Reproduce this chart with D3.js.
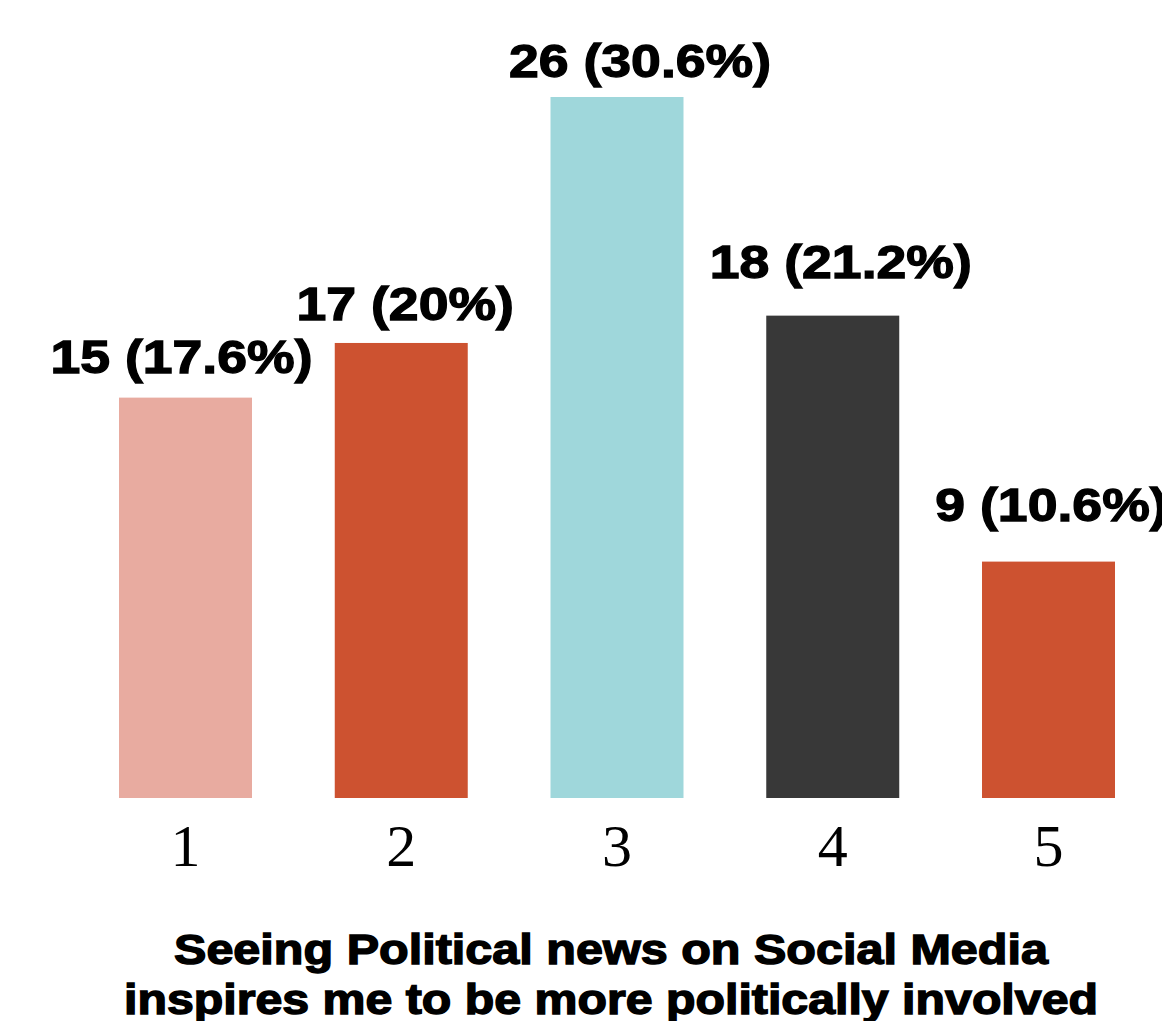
<!DOCTYPE html>
<html>
<head>
<meta charset="utf-8">
<script src="https://cdn.jsdelivr.net/npm/d3@7/dist/d3.min.js"></script>
<style>
  html, body { margin: 0; padding: 0; background: #ffffff; overflow: hidden; }
  svg { display: block; }
</style>
</head>
<body>
<div id="chart"></div>
<script>
// Survey responses on a 1–5 agreement scale
const categories = ["1", "2", "3", "4", "5"];
const counts = [15, 17, 26, 18, 9];
const percents = ["17.6%", "20%", "30.6%", "21.2%", "10.6%"];
const barColors = ["#E8ABA0", "#CD5230", "#9FD7DB", "#383838", "#CD5230"];
const titleLines = [
  "Seeing Political news on Social Media",
  "inspires me to be more politically involved"
];

const width = 1162, height = 1021;
const baseline = 798;          // bottom edge of the bars
const plotTop = 97;            // top of the tallest bar
const axisFloor = 0.35;        // value that sits on the baseline

// small hand-placement tweaks for the value labels (dx, gap above bar)
const labelDx = [-4, 4, 23, 8, 3];
const labelGap = [25, 23, 20, 38, 41];

const svg = d3.select("#chart").append("svg")
  .attr("width", width)
  .attr("height", height);

const x = d3.scaleBand()
  .domain(categories)
  .range([119, 1115])
  .paddingInner(0.3836)
  .paddingOuter(0);

const y = d3.scaleLinear()
  .domain([axisFloor, d3.max(counts)])
  .range([baseline, plotTop]);

const data = categories.map((c, i) => ({
  cat: c, count: counts[i], pct: percents[i], color: barColors[i], i
}));

// bars
svg.append("g").selectAll("rect")
  .data(data)
  .join("rect")
  .attr("x", d => x(d.cat))
  .attr("y", d => y(d.count))
  .attr("width", x.bandwidth())
  .attr("height", d => baseline - y(d.count))
  .attr("fill", d => d.color);

// value labels: count and share
const labels = svg.append("g").selectAll("text")
  .data(data)
  .join("text")
  .attr("x", d => x(d.cat) + x.bandwidth() / 2 + labelDx[d.i])
  .attr("y", d => y(d.count) - labelGap[d.i])
  .attr("text-anchor", "middle")
  .attr("font-family", "'Liberation Sans', Arial, sans-serif")
  .attr("font-weight", "bold")
  .attr("font-size", 47)
  .attr("fill", "#000")
  .attr("stroke", "#000")
  .attr("stroke-width", 1.3)
  .text(d => `${d.count} (${d.pct})`);

// widen the label glyphs to a heavy, broad look
labels.each(function () {
  const len = this.getComputedTextLength();
  d3.select(this)
    .attr("textLength", len * 1.14)
    .attr("lengthAdjust", "spacingAndGlyphs");
});

// category axis
const xAxis = svg.append("g")
  .attr("transform", `translate(0,${baseline})`)
  .call(d3.axisBottom(x).tickSize(0).tickPadding(0));
xAxis.select(".domain").remove();
xAxis.selectAll("text")
  .attr("dy", null)
  .attr("y", 68)
  .attr("font-family", "'Liberation Serif', 'Times New Roman', serif")
  .attr("font-size", 60)
  .attr("fill", "#000");

// axis title, two lines
const titleWidths = [874, 974];
svg.append("g").selectAll("text")
  .data(titleLines)
  .join("text")
  .attr("x", 611)
  .attr("y", (d, i) => 964 + i * 50)
  .attr("text-anchor", "middle")
  .attr("font-family", "'Liberation Sans', Arial, sans-serif")
  .attr("font-weight", "bold")
  .attr("font-size", 42)
  .attr("fill", "#000")
  .attr("stroke", "#000")
  .attr("stroke-width", 1.4)
  .attr("textLength", (d, i) => titleWidths[i])
  .attr("lengthAdjust", "spacingAndGlyphs")
  .text(d => d);
</script>
</body>
</html>
